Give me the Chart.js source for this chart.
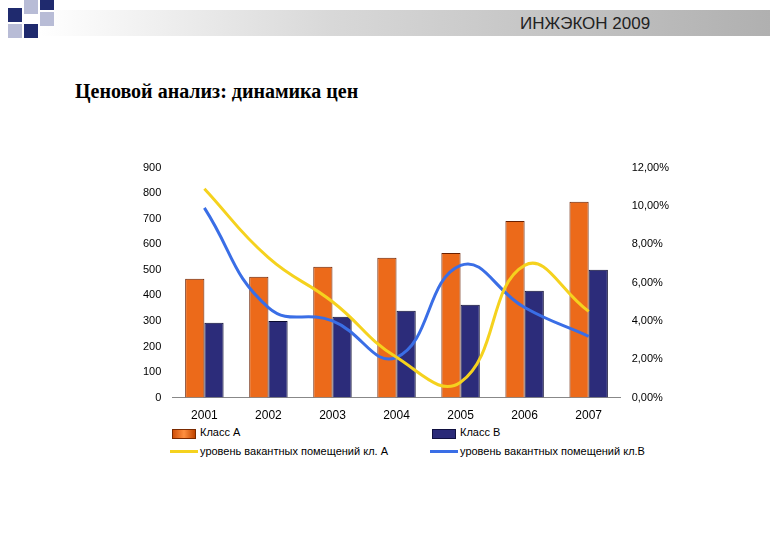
<!DOCTYPE html>
<html><head><meta charset="utf-8">
<script src="https://cdn.jsdelivr.net/npm/chart.js@4"></script>
<style>
body{margin:0;width:780px;height:540px;background:#fff;position:relative;overflow:hidden;font-family:"Liberation Sans",Arial,sans-serif}
.band{position:absolute;left:40px;top:10px;width:730px;height:26px;background:linear-gradient(90deg,#ffffff 0%,#d8d8d8 40%,#b0b0b0 100%)}
.hdr{position:absolute;left:520px;top:14px;font-size:17px;color:#222}
.sq{position:absolute;background:#1f2a6e}
.sl{position:absolute;background:#b8bcd6}
h1{position:absolute;left:75px;top:80px;margin:0;font:bold 20px "Liberation Serif","Times New Roman",serif;color:#000}
#wrap{position:absolute;left:140px;top:158px;width:532px;height:268px}
.lg{position:absolute;font-size:11px;color:#000}
.sw{position:absolute}
</style></head><body>
<div class="band"></div>
<div class="sq" style="left:8px;top:8px;width:14px;height:14px"></div>
<div class="sl" style="left:24px;top:0px;width:14px;height:14px"></div>
<div class="sq" style="left:40px;top:0px;width:14px;height:10px"></div>
<div class="sl" style="left:8px;top:24px;width:14px;height:14px"></div>
<div class="sq" style="left:24px;top:24px;width:14px;height:14px"></div>
<div class="sl" style="left:40px;top:12px;width:14px;height:14px"></div>
<div class="hdr">ИНЖЭКОН 2009</div>
<h1>Ценовой анализ: динамика цен</h1>
<div id="wrap"><canvas id="c"></canvas></div>
<div class="sw" style="left:172px;top:429px;width:22px;height:8px;background:linear-gradient(90deg,#d0500a,#ff9040,#c04400);border:1px solid #7a2a00"></div>
<div class="lg" style="left:200px;top:426px">Класс А</div>
<div class="sw" style="left:432px;top:429px;width:22px;height:8px;background:#2a2a78;border:1px solid #101040"></div>
<div class="lg" style="left:460px;top:426px">Класс В</div>
<div class="sw" style="left:170px;top:450px;width:28px;height:3px;background:#f5d21e"></div>
<div class="lg" style="left:200px;top:445px">уровень вакантных помещений кл. А</div>
<div class="sw" style="left:430px;top:450px;width:28px;height:3px;background:#3a6ee6"></div>
<div class="lg" style="left:460px;top:445px">уровень вакантных помещений кл.В</div>
<script>
const years=["2001","2002","2003","2004","2005","2006","2007"];
const classA=[465,473,512,547,566,691,766];
const classB=[293,300,316,340,363,418,500];
const vacA=[10.9,7.3,5.0,2.1,0.8,6.9,4.5];
const vacB=[9.9,4.7,4.0,2.1,6.9,4.7,3.2];
const ctx=document.getElementById('c').getContext('2d');
new Chart(ctx,{data:{labels:years,datasets:[
{type:'line',data:vacA,borderColor:'#f5d21e',borderWidth:3,pointRadius:0,tension:0.45,yAxisID:'y1'},
{type:'line',data:vacB,borderColor:'#3a6ee6',borderWidth:3,pointRadius:0,tension:0.45,yAxisID:'y1'},
{type:'bar',data:classA,backgroundColor:'#ec6a1a',borderColor:'#6a2000',borderWidth:1,yAxisID:'y',barPercentage:1,categoryPercentage:0.6},
{type:'bar',data:classB,backgroundColor:'#2c2c7a',borderColor:'#0a0a30',borderWidth:1,yAxisID:'y',barPercentage:1,categoryPercentage:0.6}
]},options:{responsive:true,maintainAspectRatio:false,animation:false,
plugins:{legend:{display:false},tooltip:{enabled:false}},
layout:{padding:{top:5}},
scales:{x:{grid:{display:false},border:{color:'#888'},ticks:{color:'#000',font:{size:12,family:'Liberation Sans'}}},
y:{min:0,max:900,ticks:{stepSize:100,color:'#000',font:{size:11,family:'Liberation Sans'}},grid:{display:false},border:{display:false}},
y1:{position:'right',min:0,max:12,ticks:{stepSize:2,color:'#000',font:{size:11,family:'Liberation Sans'},callback:v=>v.toFixed(2).replace('.',',')+'%'},grid:{display:false},border:{display:false}}}}});
</script></body></html>
